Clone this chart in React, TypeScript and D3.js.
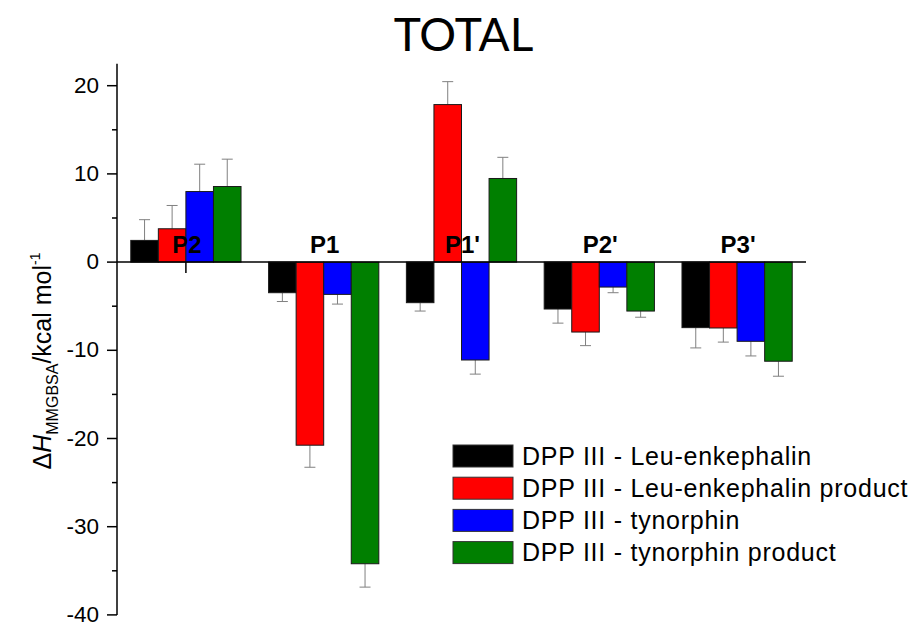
import React from "react";
import * as d3 from "d3";

const categories = ["P2", "P1", "P1'", "P2'", "P3'"];
const seriesNames = [
  "DPP III - Leu-enkephalin",
  "DPP III - Leu-enkephalin product",
  "DPP III - tynorphin",
  "DPP III - tynorphin product",
];
const seriesColors = ["#000000", "#ff0000", "#0000ff", "#007f00"];
const leuEnk = [2.46, -3.47, -4.6, -5.32, -7.43];
const leuEnkProduct = [3.78, -20.76, 17.86, -7.93, -7.47];
const tynorphin = [8.0, -3.66, -11.1, -2.83, -8.98];
const tynorphinProduct = [8.57, -34.2, 9.48, -5.55, -11.24];
const leuEnkErr = [2.35, 1.0, 0.95, 1.6, 2.3];
const leuEnkProductErr = [2.64, 2.5, 2.6, 1.54, 1.6];
const tynorphinErr = [3.1, 1.1, 1.6, 0.64, 1.66];
const tynorphinProductErr = [3.1, 2.65, 2.4, 0.7, 1.7];
const yTicks = [-40, -30, -20, -10, 0, 10, 20];
const yMinorTicks = [-35, -25, -15, -5, 5, 15];

const values = [leuEnk, leuEnkProduct, tynorphin, tynorphinProduct];
const errors = [leuEnkErr, leuEnkProductErr, tynorphinErr, tynorphinProductErr];

export default function App() {
  const W = 916;
  const H = 624;
  const x0 = 117;
  const x1 = 806;
  const y = d3.scaleLinear().domain([-40, 20]).range([614.9, 85.7]);
  const yTop = y(22.5);
  const x = d3
    .scaleBand<string>()
    .domain(categories)
    .range([x0, x1])
    .paddingInner(0.2)
    .paddingOuter(0.1);
  const xs = d3
    .scaleBand<number>()
    .domain(d3.range(seriesNames.length))
    .range([0, x.bandwidth()]);
  const font = "'Liberation Sans', Arial, sans-serif";
  const zero = y(0);

  return (
    <svg
      width={W}
      height={H}
      style={{ position: "absolute", left: 0, top: 0 }}
      fontFamily={font}
    >
      <rect width={W} height={H} fill="#fff" />
      <text
        x={463.5}
        y={51}
        textAnchor="middle"
        fontFamily="Lato, 'Open Sans', sans-serif"
        fontSize={46}
        fill="#000"
      >
        TOTAL
      </text>

      {/* bars */}
      {values.map((vals, si) =>
        vals.map((v, ci) => {
          const bx = (x(categories[ci]) as number) + (xs(si) as number);
          const bw = xs.bandwidth();
          const top = Math.min(y(v), zero);
          const h = Math.abs(y(v) - zero);
          const e = errors[si][ci];
          const ev = v >= 0 ? v + e : v - e;
          const cx = bx + bw / 2;
          return (
            <g key={`${si}-${ci}`}>
              <line x1={cx} x2={cx} y1={y(v)} y2={y(ev)} stroke="#808080" strokeWidth={1} />
              <line x1={cx - 5.5} x2={cx + 5.5} y1={y(ev)} y2={y(ev)} stroke="#808080" strokeWidth={1} />
              <rect
                x={bx}
                y={top}
                width={bw}
                height={h}
                fill={seriesColors[si]}
                stroke="#1a1a1a"
                strokeWidth={1}
              />
            </g>
          );
        })
      )}

      {/* x axis line */}
      <line x1={x0} x2={x1} y1={zero} y2={zero} stroke="#000" strokeWidth={1.5} />
      <line
        x1={(x(categories[0]) as number) + x.bandwidth() / 2}
        x2={(x(categories[0]) as number) + x.bandwidth() / 2}
        y1={zero}
        y2={zero + 11}
        stroke="#000"
        strokeWidth={1.5}
      />

      {/* category labels */}
      {categories.map((c) => (
        <text
          key={c}
          x={(x(c) as number) + x.bandwidth() / 2 + 1}
          y={253}
          textAnchor="middle"
          fontWeight="bold"
          fontSize={24}
          fill="#000"
        >
          {c}
        </text>
      ))}

      {/* y axis */}
      <line x1={x0} x2={x0} y1={yTop} y2={y(-40)} stroke="#000" strokeWidth={1.5} />
      {yTicks.map((t) => (
        <g key={t}>
          <line x1={x0 - 10} x2={x0} y1={y(t)} y2={y(t)} stroke="#000" strokeWidth={1.5} />
          <text x={99} y={y(t) + 7} textAnchor="end" fontSize={22.5} fill="#000">
            {t}
          </text>
        </g>
      ))}
      {yMinorTicks.map((t) => (
        <line key={t} x1={x0 - 5} x2={x0} y1={y(t)} y2={y(t)} stroke="#000" strokeWidth={1.5} />
      ))}

      {/* y label */}
      <text
        transform={`translate(51, 361) rotate(-90)`}
        textAnchor="middle"
        fontSize={25}
        fill="#000"
      >
        <tspan>Δ</tspan>
        <tspan fontStyle="italic">H</tspan>
        <tspan fontSize={16} dy={7}>MMGBSA</tspan>
        <tspan dy={-7}>/kcal mol</tspan>
        <tspan fontSize={14} dy={-11}>-1</tspan>
      </text>

      {/* legend */}
      {seriesNames.map((n, i) => (
        <g key={n} transform={`translate(453, ${445 + i * 32.2})`}>
          <rect width={60} height={22} fill={seriesColors[i]} stroke="#333" strokeWidth={1} />
          <text x={69} y={19.5} fontSize={25} letterSpacing={0.75} fill="#000">
            {n}
          </text>
        </g>
      ))}
    </svg>
  );
}
